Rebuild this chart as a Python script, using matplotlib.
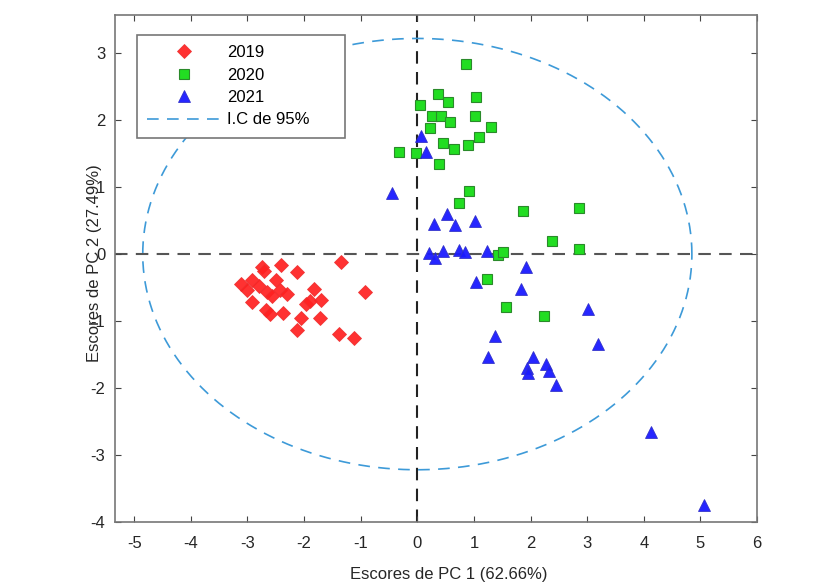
import numpy as np
import matplotlib
matplotlib.use('Agg')
import matplotlib.pyplot as plt

plt.rcParams['font.family'] = ['Liberation Sans', 'DejaVu Sans']
plt.rcParams['axes.unicode_minus'] = False

""" DATOS """
# escores 2019
x_2019 = [-1.34, -2.40, -2.75, -2.71, -2.13, -3.12, -2.92, -2.50, -3.00, -2.80,
          -2.65, -2.56, -2.42, -2.30, -2.92, -1.83, -1.71, -1.96, -1.90, -0.93,
          -2.68, -2.60, -2.37, -2.06, -1.72, -2.13, -1.38, -1.12]
y_2019 = [-0.12, -0.16, -0.20, -0.25, -0.26, -0.45, -0.38, -0.38, -0.54, -0.47,
          -0.57, -0.63, -0.53, -0.60, -0.71, -0.52, -0.68, -0.74, -0.70, -0.57,
          -0.84, -0.90, -0.88, -0.95, -0.95, -1.13, -1.19, -1.25]

# escores 2020
x_2020 = [0.86, 0.37, 0.55, 1.04, 0.05, 0.26, 0.41, 0.57, 1.02, 0.23,
          1.31, 0.45, 0.65, 0.89, 1.09, -0.33, -0.02, 0.39, 0.92, 0.73,
          1.86, 2.85, 2.38, 2.85, 1.43, 1.52, 1.23, 1.57, 2.24]
y_2020 = [2.84, 2.39, 2.27, 2.34, 2.23, 2.06, 2.06, 1.97, 2.06, 1.88,
          1.90, 1.66, 1.57, 1.63, 1.75, 1.52, 1.51, 1.35, 0.94, 0.76,
          0.64, 0.69, 0.19, 0.07, -0.02, 0.03, -0.37, -0.79, -0.92]

# escores 2021
x_2021 = [0.07, 0.16, -0.45, 0.53, 0.29, 0.67, 1.02, 0.20, 0.32, 0.45,
          0.73, 0.85, 1.23, 1.92, 1.04, 1.83, 3.02, 1.38, 3.20, 1.24,
          2.05, 2.27, 1.93, 1.95, 2.33, 2.45, 4.13, 5.06]
y_2021 = [1.77, 1.53, 0.91, 0.60, 0.45, 0.43, 0.49, 0.01, -0.06, 0.05,
          0.06, 0.03, 0.04, -0.20, -0.42, -0.52, -0.82, -1.23, -1.34, -1.53,
          -1.53, -1.64, -1.70, -1.77, -1.75, -1.95, -2.65, -3.75]

# semiejes de la elipse de confianza (95%)
elipse_a = 4.85
elipse_b = 3.22

x_ticks = [-5, -4, -3, -2, -1, 0, 1, 2, 3, 4, 5, 6]
y_ticks = [-4, -3, -2, -1, 0, 1, 2, 3]

""" GRAFICO """
fig = plt.figure(figsize=(8.2, 5.83), dpi=100)
ax = fig.add_axes([115 / 820, 61 / 583, 642 / 820, 507 / 583])

# lineas de referencia
ax.axhline(0, color='#555555', lw=1.5, ls=(0, (6, 4)), zorder=1)
ax.axvline(0, color='#222222', lw=1.5, ls=(0, (6, 4)), zorder=1)

ax.plot(x_2019, y_2019, 'D', ms=6.8, color='#ff2020', mec='#ee3030', mew=0.6,
        alpha=0.92, label='2019', zorder=3)
ax.plot(x_2020, y_2020, 's', ms=7.2, color='#22dd22', mec='#2a8a2a', mew=0.8,
        label='2020', zorder=3)
ax.plot(x_2021, y_2021, '^', ms=9, color='#1a1aff', mec='#3030c8', mew=0.6,
        alpha=0.95, label='2021', zorder=4)

# elipse
t = np.linspace(0, 2 * np.pi, 400)
ax.plot(elipse_a * np.cos(t), elipse_b * np.sin(t), color='#3d9ad8', lw=1.2,
        ls=(0, (7, 5)), label='I.C de 95%', zorder=2)

ax.set_xlim(-5.34, 6)
ax.set_ylim(-4, 3.57)
ax.set_xticks(x_ticks)
ax.set_yticks(y_ticks)
ax.tick_params(direction='in', top=True, right=True, labelsize=12,
               color='#444444', labelcolor='#262626', length=4)
ax.tick_params(axis='x', pad=10)
ax.tick_params(axis='y', pad=7)
for s in ax.spines.values():
    s.set_color('#777777')
    s.set_linewidth(1.2)

ax.set_xlabel('Escores de PC 1 (62.66%)', fontsize=12, color='#262626')
ax.set_ylabel('Escores de PC 2 (27.49%)', fontsize=12, color='#262626')
ax.xaxis.set_label_coords(0.52, -0.088)
ax.yaxis.set_label_coords(-0.02, 0.511)

leg = ax.legend(loc='upper left',
                bbox_to_anchor=(22 / 642, 487 / 507 - 0.1, 208 / 642, 0.1),
                mode='expand', borderaxespad=0, fancybox=False, edgecolor='#777777',
                fontsize=12, handlelength=4.4, handletextpad=0.4, labelspacing=0.45,
                borderpad=0.6, framealpha=1)
leg.get_frame().set_linewidth(1.2)

plt.savefig('out.png', dpi=100)
